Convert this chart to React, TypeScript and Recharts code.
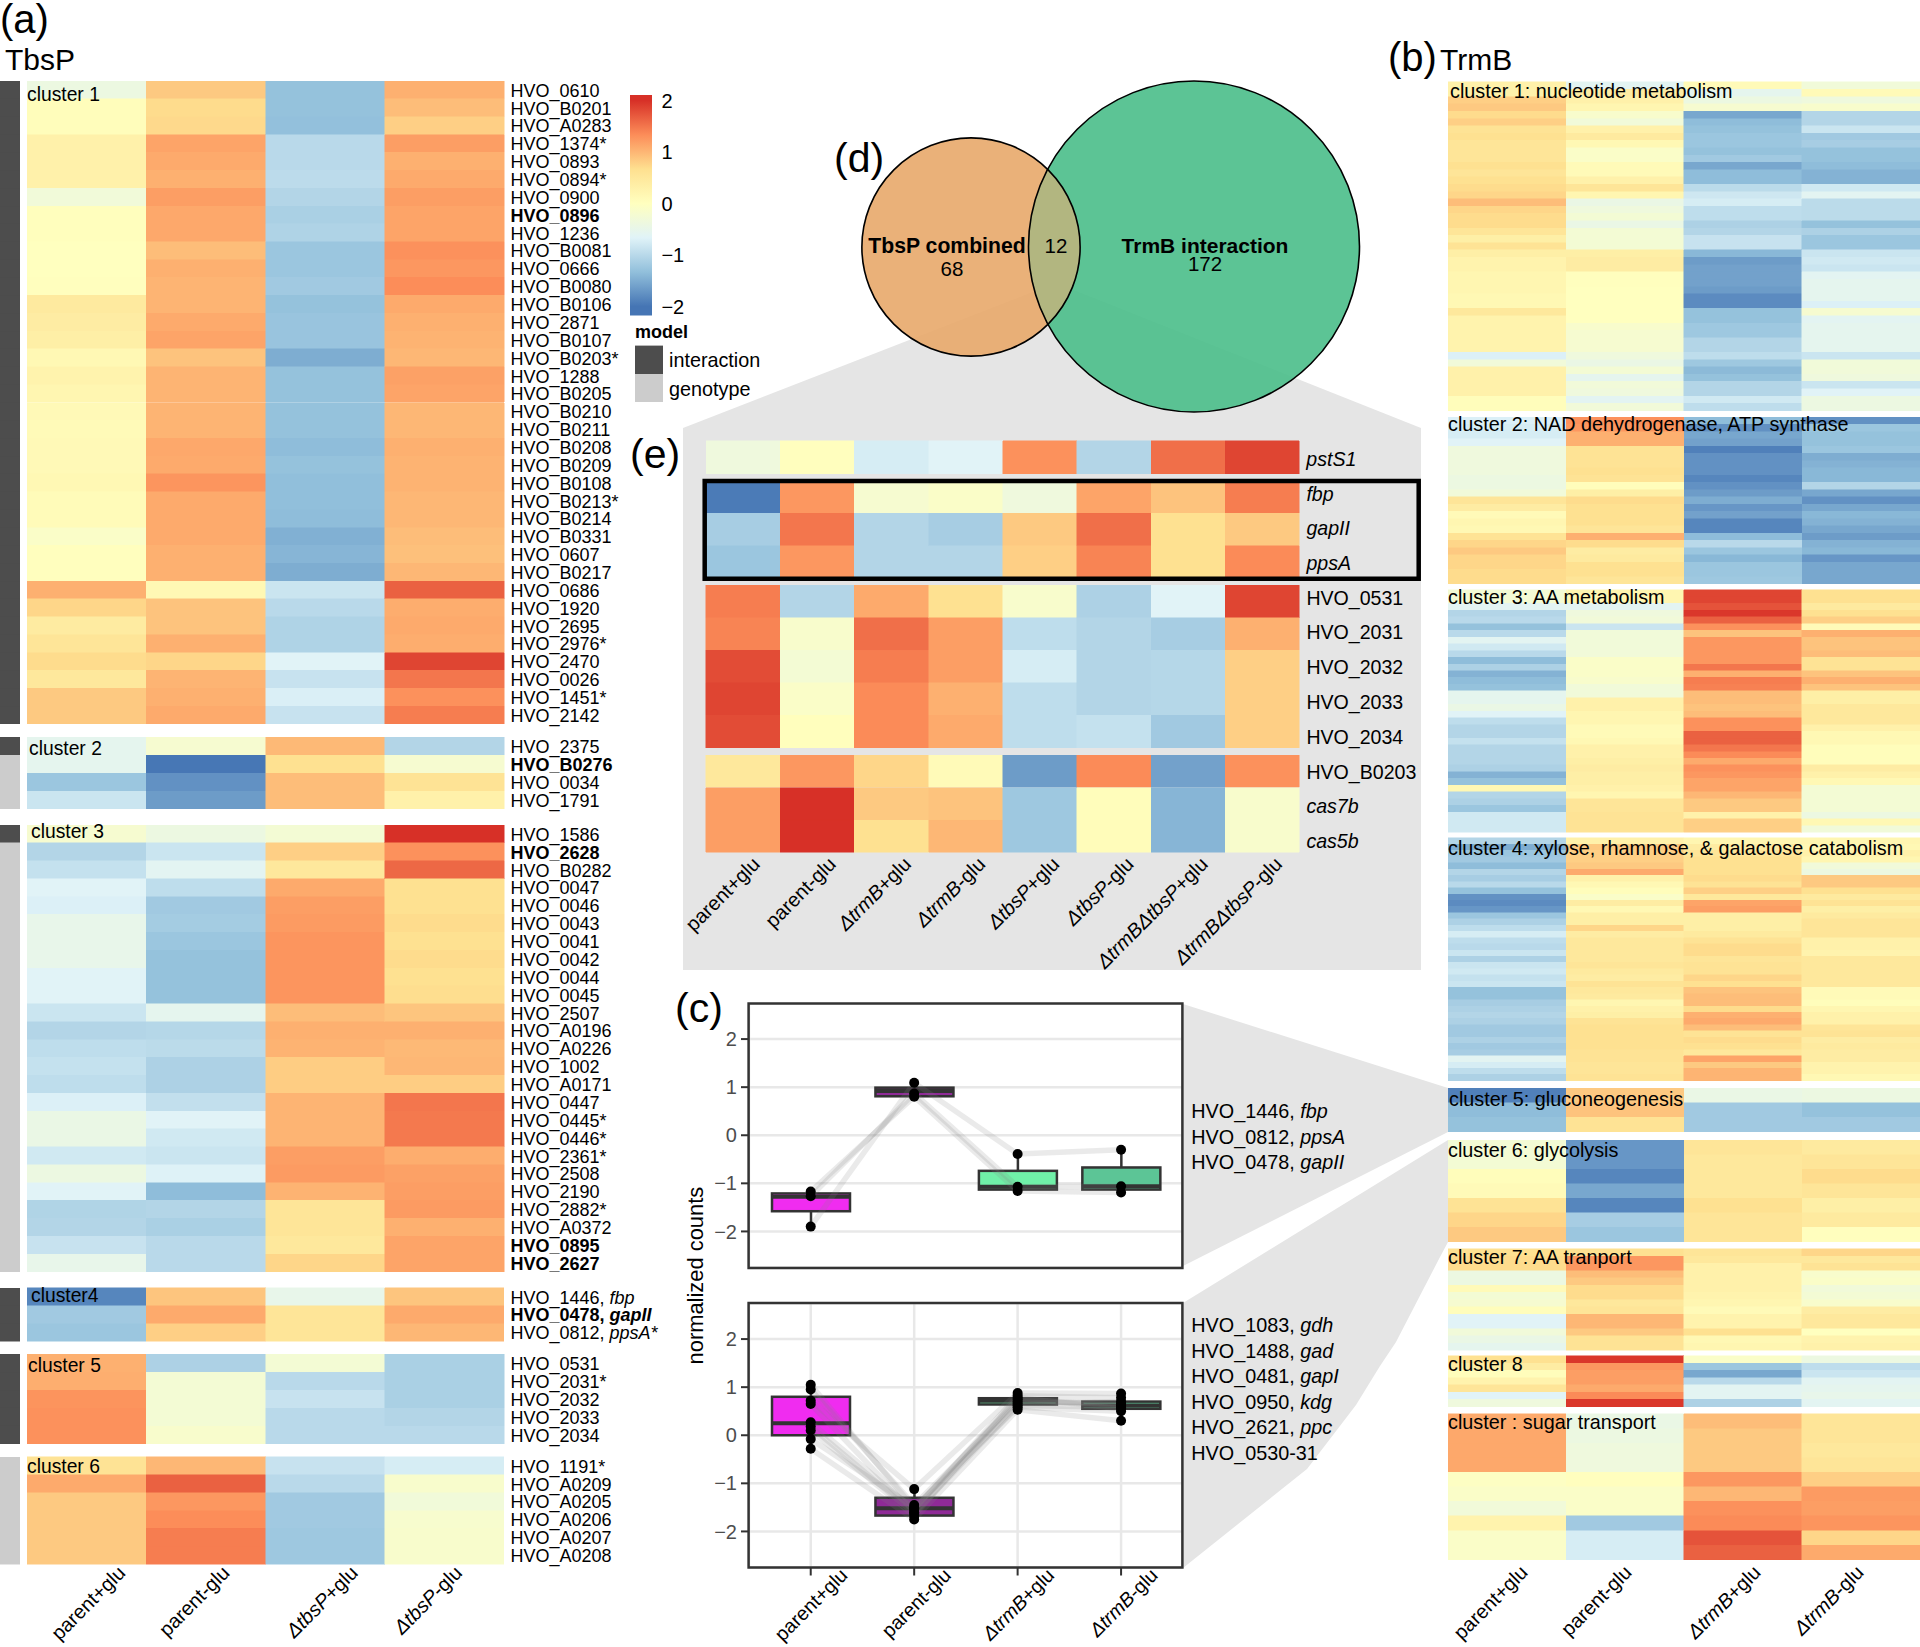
import {
  Bar,
  BarChart,
  CartesianGrid,
  Cell,
  ComposedChart,
  Line,
  Polygon,
  Rectangle,
  Scatter,
  ScatterChart,
  Surface,
  XAxis,
  YAxis,
  ZAxis
} from 'recharts';

// labels use | to switch italics on and off
const TBSP_C1_GENES = ['HVO_0610', 'HVO_B0201', 'HVO_A0283', 'HVO_1374*', 'HVO_0893', 'HVO_0894*', 'HVO_0900', 'HVO_0896', 'HVO_1236', 'HVO_B0081', 'HVO_0666', 'HVO_B0080', 'HVO_B0106', 'HVO_2871', 'HVO_B0107', 'HVO_B0203*', 'HVO_1288', 'HVO_B0205', 'HVO_B0210', 'HVO_B0211', 'HVO_B0208', 'HVO_B0209', 'HVO_B0108', 'HVO_B0213*', 'HVO_B0214', 'HVO_B0331', 'HVO_0607', 'HVO_B0217', 'HVO_0686', 'HVO_1920', 'HVO_2695', 'HVO_2976*', 'HVO_2470', 'HVO_0026', 'HVO_1451*', 'HVO_2142'];
const TBSP_C1 = [
  [-.4, .85, -1.3, 1.05], [.05, .7, -1.3, .95], [.05, .72, -1.32, .8], [.3, 1.15, -1, 1.2], [.3, 1.1, -1, 1.05], [.3, 1.05, -.97, 1.1],
  [-.3, 1.2, -1.05, 1.2], [.03, 1.12, -1.12, 1.15], [.03, 1.12, -1.08, 1.15], [0, .95, -1.25, 1.3], [0, 1.05, -1.25, 1.25], [.02, 1.02, -1.2, 1.33],
  [.45, 1.02, -1.3, 1.1], [.4, 1.1, -1.27, 1.05], [.35, 1.15, -1.27, 1.03], [.15, .9, -1.5, 1], [.25, 1.02, -1.3, 1.17], [.2, 1.02, -1.3, 1.15],
  [.12, 1.02, -1.3, 1], [.1, 1.02, -1.3, 1], [.12, 1.12, -1.35, 1.05], [.12, 1.1, -1.3, 1.03], [.15, 1.27, -1.33, 1.03], [.08, 1.1, -1.33, 1],
  [.08, 1.1, -1.35, 1], [-.1, 1.1, -1.47, .95], [.02, 1.05, -1.42, .92], [.02, 1.05, -1.5, 1], [1.05, .15, -.85, 1.65], [.75, .9, -1, 1.08],
  [.42, .9, -1.08, 1.1], [.55, 1.05, -1.08, 1.08], [.7, .75, -.65, 1.85], [.5, 1.02, -.88, 1.5], [.85, 1.05, -.72, 1.3], [.85, 1.1, -.88, 1.45]
];
const TBSP_C2_GENES = ['HVO_2375', 'HVO_B0276', 'HVO_0034', 'HVO_1791'];
const TBSP_C2 = [[-.55, -.2, .98, -1.05], [-.55, -1.98, .65, -.2], [-1.25, -1.75, .95, .6], [-.85, -1.65, .95, .3]];
const TBSP_C3_GENES = ['HVO_1586', 'HVO_2628', 'HVO_B0282', 'HVO_0047', 'HVO_0046', 'HVO_0043', 'HVO_0041', 'HVO_0042', 'HVO_0044', 'HVO_0045', 'HVO_2507', 'HVO_A0196', 'HVO_A0226', 'HVO_1002', 'HVO_A0171', 'HVO_0447', 'HVO_0445*', 'HVO_0446*', 'HVO_2361*', 'HVO_2508', 'HVO_2190', 'HVO_2882*', 'HVO_A0372', 'HVO_0895', 'HVO_2627'];
const TBSP_C3 = [
  [-.2, -.4, -.25, 2], [-1.05, -.85, .8, 1.3], [-.9, -.6, .5, 1.6], [-.65, -.95, 1.1, .65], [-.7, -1.2, 1.2, .65], [-.5, -1.17, 1.22, .7],
  [-.5, -1.25, 1.27, .65], [-.5, -1.3, 1.27, .7], [-.65, -1.3, 1.27, .65], [-.65, -1.3, 1.27, .68], [-.85, -.55, .95, .88], [-1.05, -1.03, 1.05, 1.05],
  [-.95, -.98, 1.03, .98], [-.9, -1.1, .82, 1], [-.95, -1.1, .82, .82], [-.7, -.92, 1.02, 1.5], [-.45, -.65, 1.02, 1.48], [-.45, -.8, 1.02, 1.48],
  [-.8, -.85, 1.2, 1.08], [-.4, -.68, 1.22, 1.17], [-.65, -1.35, 1.03, 1.2], [-1.07, -1.05, .55, 1.22], [-1.05, -1.12, .55, 1.05], [-.88, -1, .5, 1.15], [-.5, -1, .75, 1.15]
];
const TBSP_C4_GENES = ['HVO_1446, |fbp', 'HVO_0478, |gapII', 'HVO_0812, |ppsA*'];
const TBSP_C4 = [[-1.85, .88, -.5, .88], [-1.2, 1.1, .55, 1.1], [-1.25, .8, .55, 1]];
const TBSP_C5_GENES = ['HVO_0531', 'HVO_2031*', 'HVO_2032', 'HVO_2033', 'HVO_2034'];
const TBSP_C5 = [[1.05, -1.1, -.25, -1.12], [1.07, -.25, -1, -1.12], [1.28, -.25, -.88, -1.12], [1.3, -.25, -1, -1.05], [1.3, -.15, -1, -1]];
const TBSP_C6_GENES = ['HVO_1191*', 'HVO_A0209', 'HVO_A0205', 'HVO_A0206', 'HVO_A0207', 'HVO_A0208'];
const TBSP_C6 = [[.6, 1, -.88, -.75], [1.1, 1.65, -1, -.15], [.85, 1.25, -1.2, -.3], [.85, 1.33, -1.2, -.18], [.85, 1.45, -1.22, -.15], [.85, 1.45, -1.22, -.15]];
const BOLD_GENES = ['HVO_0896', 'HVO_B0276', 'HVO_2628', 'HVO_0895', 'HVO_2627', 'HVO_0478, |gapII'];
const TBSP_COLUMNS = ['parent+glu', 'parent-glu', '|ΔtbsP|+glu', '|ΔtbsP|-glu'];

const TRMB_C1 = [
  [.3, -.6, .1, -.3], [.3, .4, -.55, .1], [.8, .3, -.4, -.35], [.85, .2, -.2, -.15], [.7, -.15, -1.55, -1.05], [.8, -.3, -1.35, -1.05],
  [.6, .3, -1.3, -.85], [.65, .45, -1.25, -1.2], [.55, .15, -1.25, -1.15], [.55, -.1, -1.3, -1.3], [.55, -.1, -1.2, -1.3], [.65, .1, -1.55, -1.35],
  [.55, .1, -1.35, -1.45], [.65, .3, -1.35, -1.45], [.7, .55, -.98, -.8], [.75, .2, -.82, -.6], [.95, -.45, -.75, -.98], [.75, -.35, -.95, -.98],
  [.7, -.25, -.95, -.98], [.7, -.45, -1.1, -1.3], [.55, -.25, -1.05, -1.1], [.35, -.25, -.88, -1.25], [.6, -.25, -.88, -1.25], [.35, .35, -1.4, -.85],
  [.25, .4, -1.65, -.8], [.25, .4, -1.6, -.85], [.2, .02, -1.6, -.6], [.2, .02, -1.6, -.55], [.2, 0, -1.65, -.55], [.15, 0, -1.8, -.55],
  [.15, 0, -1.8, -.7], [.5, 0, -1.3, -.2], [.25, 0, -1.3, -.6], [.25, -.15, -1.22, -.55], [.25, -.2, -1.22, -.55], [.25, -.2, -1.05, -.55],
  [.25, -.2, -1.05, -.55], [-.7, -.35, -.95, -.85], [-.3, -.45, -1.22, -.3], [.3, -.25, -1.38, -.3], [.3, -.55, -1.3, -.35], [.3, -.3, -1.05, -.85],
  [.3, -.35, -1.05, -.65], [.05, -.6, -.8, -.4], [.05, -.3, -.95, -.4]
];
const TRMB_C2 = [
  [-.7, 1.3, -1.35, -1.75], [-.75, 1.25, -1.75, -1.25], [-.75, 1.05, -1.55, -1.3], [-.65, 1.05, -1.6, -1.3], [-.35, .6, -1.9, -1.25], [-.35, .6, -1.75, -1.5],
  [-.35, .6, -1.75, -1.45], [-.35, .65, -1.75, -1.4], [-.4, .6, -1.85, -1.4], [-.4, .05, -1.75, -1.05], [-.3, .35, -1.65, -1.55], [.55, .7, -1.5, -1.75],
  [.4, .65, -1.7, -1.55], [.1, .65, -1.6, -1.4], [.2, .65, -1.85, -1.45], [.15, .55, -1.85, -1.55], [.6, 1.05, -1.35, -1.65], [.75, .7, -1, -1.45],
  [.85, .4, -1.25, -1.4], [.75, .45, -1.4, -1.7], [.75, .65, -1.25, -1.55], [.7, .65, -1.25, -1.55], [.7, .55, -1.22, -1.55]
];
const TRMB_C3 = [
  [-.25, .2, 1.85, .65], [-.25, .2, 1.85, .65], [-.6, -.6, 1.75, .45], [-1.05, -.35, 1.95, .65], [-1, -.3, 1.65, .8], [-1.3, -.85, 1.3, .1],
  [-1, -.3, .9, 1.05], [-.6, -.3, 1.25, .9], [-.8, -.3, 1.25, .9], [-1, -.3, 1.25, .95], [-1.35, -.1, 1.25, .6], [-1.1, -.1, 1.5, .6],
  [-1.45, -.1, 1.05, .9], [-1.35, -.15, 1.45, 1.05], [-1.3, -.3, 1.42, .9], [-.55, -.3, .95, .35], [-.55, .3, .95, .35], [-.45, .3, .9, .5],
  [-.65, .2, .95, .5], [-.95, .2, 1.3, .5], [-1.05, .1, 1.3, .3], [-1.05, .1, 1.65, .15], [-.9, .15, 1.65, .15], [-1.05, .3, 1.5, .05],
  [-1.05, .3, 1.35, .05], [-1.05, .35, 1.1, .05], [-1.1, .4, 1.3, .4], [-1.45, .35, 1.25, .3], [-1.3, .35, 1.15, .15], [.15, .3, 1.15, -.25],
  [-1.05, .2, 1, -.25], [-1.1, .55, .85, -.25], [-1.25, .55, .85, -.25], [-.8, .6, .3, -.4], [-.8, .6, .8, .15], [-.8, .6, .8, -.3]
];
const TRMB_C4 = [
  [-1.05, .3, .2, .2], [-1.5, .85, .4, .15], [-1.25, .8, .55, .3], [-1.2, .8, .65, .2], [-1.35, .85, .65, -.3], [-1.05, 1.1, .65, -.4],
  [-1.15, .3, .7, .85], [-1, .15, .6, .85], [-1.3, .05, .8, .65], [-1.75, -.1, .5, .45], [-1.8, .4, 1.15, .6], [-1.7, .15, 1.2, .35],
  [-1.25, .35, .35, .45], [-1.1, .35, .35, .55], [-.95, .75, .35, .55], [-.75, .4, .45, .55], [-.95, .5, .6, .3], [-1, .5, .7, .3],
  [-.85, .5, .7, .25], [-1.1, .5, .55, .5], [-.85, .55, .6, .5], [-.8, .45, .6, .5], [-.9, .4, .75, .5], [-.85, .6, .65, .5],
  [-1.3, .5, .9, .1], [-1.3, .45, .95, .1], [-1.15, .2, .95, .05], [-1.1, .3, .7, .2], [-1.05, .35, 1.05, .3], [-1.1, .6, 1.1, .3],
  [-1.2, .65, .95, .55], [-1.2, .65, .6, .6], [-1.1, .65, .7, .4], [-1.2, .65, .65, .45], [-1.15, .6, .5, .4], [-.6, .6, 1.15, .4],
  [-.75, .55, .85, .25], [-.95, .55, 1.02, .25], [-1.1, .6, 1.02, .15]
];
const TRMB_C5 = [[-1.9, .85, -.45, -.4], [-1.35, .9, -1.2, -1.3], [-1.3, .6, -1.2, -1.2]];
const TRMB_C6 = [[-.25, -1.7, .55, .45], [-.25, -1.7, .5, .55], [.05, -1.85, .5, .7], [.1, -1.55, .5, .55], [.6, -1.85, .65, .35], [.75, -1.15, .55, .45], [.85, -1.25, .55, .02]];
const TRMB_C7 = [
  [.65, .65, .55, .75], [.7, 1.25, .5, .5], [.7, 1.25, .3, .6], [-.4, .95, .3, -.15], [-.4, .85, .3, -.1], [.1, .7, .3, -.3], [-.25, .7, .25, -.25],
  [-.2, .5, .2, -.15], [.05, .55, .1, .4], [-.65, 1, .25, .5], [-.65, 1, .25, .5], [-.3, .85, .65, 0], [-.45, .6, .15, .25], [-.55, .6, .2, .3]
];
const TRMB_C8 = [[.65, 1.95, -.1, -.4], [.4, 1.25, -1.25, -.95], [.05, 1.2, -1.55, -.85], [.25, 1.2, -1, -.6], [.55, 1.1, -.6, -.55], [-.65, 1.35, -.6, -.5], [-.35, 1.95, -1.1, -.6]];
const TRMB_C9 = [[1.1, -.45, .95, .55], [1.12, -.4, .85, .55], [1.12, -.35, .85, .5], [1.12, -.35, .85, .55], [-.05, .02, 1.25, .8], [-.1, -.1, 1, 1.22], [-.3, -.1, 1.3, 1.2], [.25, -1.2, 1.35, 1.27], [-.1, -.75, 1.75, .75], [-.1, -.75, 1.65, 1.1]];
const TRMB_COLUMNS = ['parent+glu', 'parent-glu', '|ΔtrmB|+glu', '|ΔtrmB|-glu'];

const SHARED_A_GENES = ['|pstS1'];
const SHARED_A = [[-.35, .02, -.75, -.65, 1.3, -1.05, 1.55, 1.85]];
const SHARED_B_GENES = ['|fbp', '|gapII', '|ppsA'];
const SHARED_B = [[-1.95, 1.25, -.2, -.1, -.35, 1.15, .9, 1.45], [-1.15, 1.5, -1.05, -1.15, .85, 1.55, .65, .85], [-1.25, 1.25, -1.05, -1.05, .8, 1.4, .65, 1.35]];
const SHARED_C_GENES = ['HVO_0531', 'HVO_2031', 'HVO_2032', 'HVO_2033', 'HVO_2034'];
const SHARED_C = [
  [1.45, -1.05, 1.1, .65, -.15, -1.1, -.65, 1.85], [1.4, -.15, 1.55, 1.2, -.95, -1.05, -1.15, 1.05], [1.8, -.25, 1.45, 1.2, -.75, -1.05, -1.03, .8],
  [1.85, -.1, 1.35, 1.05, -.95, -1.05, -1.03, .8], [1.8, .03, 1.35, 1.1, -.95, -.9, -1.2, .8]
];
const SHARED_D_GENES = ['HVO_B0203', '|cas7b', '|cas5b'];
const SHARED_D = [[.5, 1.25, .75, .1, -1.65, 1.35, -1.6, 1.3], [1.2, 2, .85, .9, -1.22, .05, -1.42, -.15], [1.2, 2, .65, 1, -1.22, .07, -1.42, -.15]];
const SHARED_COLUMNS = ['parent+glu', 'parent-glu', '|ΔtrmB|+glu', '|ΔtrmB|-glu', '|ΔtbsP|+glu', '|ΔtbsP|-glu', '|ΔtrmBΔtbsP|+glu', '|ΔtrmBΔtbsP|-glu'];

const BOX_GROUPS = ['parent+glu', 'parent-glu', '|ΔtrmB|+glu', '|ΔtrmB|-glu'];
const BOX_FILLS = ['#f02cf0', '#8f2a97', '#70f0a8', '#5cc596'];
const UPPER_PROFILES = [[-1.9, 1.09, -.39, -.3], [-1.27, .87, -1.07, -1.06], [-1.17, .8, -1.16, -1.19]];
const UPPER_Q1 = [-1.58, .81, -1.13, -1.13];
const UPPER_MEDIAN = [-1.28, .92, -1.07, -1.06];
const UPPER_Q3 = [-1.21, .99, -.74, -.67];
const UPPER_WHISKER_LOW = [-1.9, .8, -1.16, -1.19];
const UPPER_WHISKER_HIGH = [-1.17, 1.09, -.39, -.3];
const LOWER_PROFILES = [
  [1.05, -1.52, .75, .62], [.95, -1.45, .7, .66], [.72, -1.12, .88, .87], [.65, -1.6, .66, .7], [.27, -1.55, .82, .78],
  [.18, -1.63, .62, .58], [.1, -1.68, .78, .55], [-.08, -1.5, .58, .5], [-.28, -1.75, .53, .3]
];
const LOWER_Q1 = [0, -1.67, .64, .55];
const LOWER_MEDIAN = [.25, -1.52, .72, .62];
const LOWER_Q3 = [.8, -1.3, .77, .7];
const LOWER_WHISKER_LOW = [-.28, -1.75, .53, .3];
const LOWER_WHISKER_HIGH = [1.05, -1.12, .88, .87];
const UPPER_GENES = ['HVO_1446, |fbp', 'HVO_0812, |ppsA', 'HVO_0478, |gapII'];
const LOWER_GENES = ['HVO_1083, |gdh', 'HVO_1488, |gad', 'HVO_0481, |gapI', 'HVO_0950, |kdg', 'HVO_2621, |ppc', 'HVO_0530-31'];

const VENN_SETS = ['TbsP combined', 'TrmB interaction'];
const VENN_TOTALS = [80, 184];
const VENN_EXCLUSIVE = [68, 12, 172];

const HEAT_STOPS = ['#4575b4', '#91bfdb', '#e0f3f8', '#ffffbf', '#fee090', '#fc8d59', '#d73027'];
const MODEL_COLORS: Record<string, string> = { interaction: '#4d4d4d', genotype: '#cccccc' };
const FONT = '"Liberation Sans", Arial, sans-serif';

const heatColor = (value: number) => {
  const t = ((Math.max(-2, Math.min(2, value)) + 2) / 4) * (HEAT_STOPS.length - 1);
  const i = Math.min(Math.floor(t), HEAT_STOPS.length - 2);
  const channel = (hex: string, at: number) => parseInt(hex.slice(at, at + 2), 16);
  const mix = [1, 3, 5].map((at) =>
    Math.round(channel(HEAT_STOPS[i], at) + (channel(HEAT_STOPS[i + 1], at) - channel(HEAT_STOPS[i], at)) * (t - i))
  );
  return `rgb(${mix.join(',')})`;
};

const MarkedText = ({ x, y, label, size, bold, transform, anchor }: any) => (
  <text x={x} y={y} fontSize={size} fontWeight={bold ? 700 : 400} transform={transform} textAnchor={anchor} dominantBaseline="central" fill="#000">
    {String(label).split('|').map((part, i) => (
      <tspan key={i} fontStyle={i % 2 ? 'italic' : 'normal'}>{part}</tspan>
    ))}
  </text>
);

const Heatmap = ({ left, top, width, height, rows, genes, labelSize = 18, labelGap = 6.5, labelSpace = 170, labelAt, columns, nudges, labelDrop = 5, axisHeight = 100, fillOf = heatColor }: any) => {
  const pad = 40;
  const vpad = 14; // room so the first and last row labels are not clipped by the svg
  const count = rows[0].length;
  const data = rows.map((row: any[], i: number) => {
    const entry: any = { gene: genes ? genes[i] : `row${i}` };
    row.forEach((_, j) => { entry[`c${j}`] = 1; });
    return entry;
  });
  const ticks = rows[0].map((_: any, j: number) => j + 0.5);
  const right = genes ? labelSpace : 0;
  const bottom = columns ? axisHeight : 0;
  return (
    <div style={{ position: 'absolute', left: left - pad, top: top - vpad, shapeRendering: 'crispEdges' }}>
      <BarChart
        layout="vertical"
        width={pad + width + right}
        height={vpad + height + bottom + vpad}
        data={data}
        margin={{ top: vpad, right: 0, bottom: vpad, left: pad }}
        barCategoryGap={0}
        barGap={0}
      >
        <XAxis
          type="number"
          domain={[0, count]}
          ticks={ticks}
          interval={0}
          hide={!columns}
          height={bottom}
          axisLine={false}
          tickLine={false}
          tick={(p: any) => {
            const j = Math.floor(p.payload.value);
            const x = p.x + nudges[j];
            const y = vpad + height + labelDrop;
            return <MarkedText x={x} y={y} label={columns[j]} size={20} anchor="end" transform={`rotate(-45 ${x} ${y})`} />;
          }}
        />
        <YAxis
          type="category"
          dataKey="gene"
          orientation="right"
          width={right}
          hide={!genes}
          interval={0}
          axisLine={false}
          tickLine={false}
          tick={(p: any) => (
            <MarkedText
              x={pad + width + labelGap}
              y={labelAt ? labelAt(genes.indexOf(p.payload.value)) - top + vpad : p.y + 0.8}
              label={p.payload.value}
              size={labelSize}
              bold={BOLD_GENES.includes(p.payload.value)}
            />
          )}
        />
        {rows[0].map((_: any, j: number) => (
          <Bar key={j} dataKey={`c${j}`} stackId="cells" barSize={height / rows.length - 0.001} isAnimationActive={false}>
            {rows.map((row: any[], i: number) => (
              <Cell key={i} fill={fillOf(row[j])} stroke={fillOf(row[j])} strokeWidth={0.5} />
            ))}
          </Bar>
        ))}
      </BarChart>
    </div>
  );
};

const modelFill = (model: string) => MODEL_COLORS[model];

const ModelStrip = ({ top, height, models }: any) => (
  <Heatmap left={0} top={top} width={20.4} height={height} rows={models.map((m: string) => [m])} fillOf={modelFill} />
);

const ColorBar = () => {
  const low = -2.175;
  const high = 2.107;
  const vpad = 14;
  return (
    <div style={{ position: 'absolute', left: 629.6, top: 94.5 - vpad }}>
      <BarChart width={72} height={220.5 + 2 * vpad} data={[{ name: 'z', span: [low, high] }]} margin={{ top: vpad, right: 0, bottom: vpad, left: 0 }} barCategoryGap={0}>
        <XAxis dataKey="name" hide />
        <YAxis
          orientation="right"
          width={49.6}
          domain={[low, high]}
          ticks={[-2, -1, 0, 1, 2]}
          interval={0}
          axisLine={false}
          tickLine={false}
          tickSize={7}
          tickMargin={2}
          tick={{ fill: '#000', fontSize: 20 }}
          tickFormatter={(v: number) => String(v).replace('-', '−')}
        />
        <Bar dataKey="span" fill="url(#heat-ramp)" isAnimationActive={false} />
      </BarChart>
    </div>
  );
};

const BoxShape = ({ x, y, width, height, payload, index }: any) => {
  const perUnit = Math.abs(height) / (payload.q3 - payload.q1);
  const at = (v: number) => y + (payload.q3 - v) * perUnit;
  const mid = x + width / 2;
  return (
    <g>
      <line x1={mid} x2={mid} y1={at(payload.whiskerHigh)} y2={at(payload.whiskerLow)} stroke="#333" strokeWidth={2.5} />
      <rect x={x} y={y} width={width} height={Math.abs(height)} fill={BOX_FILLS[index]} stroke="#333" strokeWidth={2.5} />
      <line x1={x} x2={x + width} y1={at(payload.median)} y2={at(payload.median)} stroke="#333" strokeWidth={4} />
    </g>
  );
};

const BoxPanel = ({ top, profiles, q1, median, q3, low, high, showAxis }: any) => {
  const data = BOX_GROUPS.map((group, i) => {
    const row: any = { group, q1: q1[i], median: median[i], q3: q3[i], whiskerLow: low[i], whiskerHigh: high[i] };
    profiles.forEach((p: number[], k: number) => { row[`g${k}`] = p[i]; });
    return row;
  });
  const plotHeight = 264.5;
  const bottom = showAxis ? 85 : 0;
  return (
    <div style={{ position: 'absolute', left: 688.6, top }}>
      <ComposedChart width={493.8} height={plotHeight + bottom} data={data} margin={{ top: 0, right: 0, bottom: 0, left: 0 }}>
        <CartesianGrid stroke="#e8e8e8" strokeWidth={2.5} />
        <XAxis
          dataKey="group"
          padding={{ left: 10, right: 10 }}
          height={bottom}
          interval={0}
          axisLine={false}
          tickLine={showAxis ? { stroke: '#333', strokeWidth: 2 } : false}
          tickSize={showAxis ? 8 : 0}
          tick={showAxis ? (p: any) => {
            const x = p.x + 33;
            const y = plotHeight + 4;
            return <MarkedText x={x} y={y} label={p.payload.value} size={19.6} anchor="end" transform={`rotate(-45 ${x} ${y})`} />;
          } : false}
        />
        <YAxis
          width={60}
          domain={[-2.75, 2.75]}
          ticks={[-2, -1, 0, 1, 2]}
          interval={0}
          axisLine={false}
          tickLine={{ stroke: '#333', strokeWidth: 2 }}
          tickSize={8}
          tickMargin={4}
          tick={{ fill: '#4d4d4d', fontSize: 20 }}
          tickFormatter={(v: number) => String(v).replace('-', '−')}
        />
        <Bar dataKey={(d: any) => [d.q1, d.q3]} barSize={78} isAnimationActive={false} shape={(p: any) => <BoxShape {...p} />} />
        {profiles.map((_: number[], k: number) => (
          <Line
            key={k}
            dataKey={`g${k}`}
            stroke="#808080"
            strokeOpacity={0.17}
            strokeWidth={5.5}
            dot={{ r: 5, fill: '#000', stroke: 'none', fillOpacity: 1 }}
            isAnimationActive={false}
          />
        ))}
      </ComposedChart>
    </div>
  );
};

// venn chart uses page pixels as its own axis units
const VENN_LEFT = 860;
const VENN_TOP = 76;
const VENN_CENTRES = [{ x: 971, y: 247 }, { x: 1194, y: 246.5 }];
const VENN_FILLS = ['#e8a86a', '#4abe89'];

const Venn = () => {
  const data = VENN_SETS.map((name, i) => ({ name, count: VENN_TOTALS[i], x: VENN_CENTRES[i].x, y: VENN_CENTRES[i].y }));
  const disc = (fill: (i: number) => string, extra: any = {}) => (p: any) => (
    <circle cx={p.cx} cy={p.cy} r={Math.sqrt(p.size / Math.PI)} fill={fill(p.index)} {...extra} />
  );
  return (
    <div style={{ position: 'absolute', left: VENN_LEFT, top: VENN_TOP }}>
      <ScatterChart width={510} height={345} margin={{ top: 0, right: 0, bottom: 0, left: 0 }}>
        <XAxis type="number" dataKey="x" domain={[VENN_LEFT, VENN_LEFT + 510]} hide />
        <YAxis type="number" dataKey="y" domain={[VENN_TOP, VENN_TOP + 345]} reversed hide />
        <ZAxis type="number" dataKey="count" domain={[0, 184]} range={[0, Math.PI * 165.5 * 165.5]} scale="linear" />
        <Scatter data={data} isAnimationActive={false} shape={disc((i) => VENN_FILLS[i], { fillOpacity: 0.9 })} />
        <Scatter data={data.slice(0, 1)} isAnimationActive={false} shape={disc(() => '#b5b680', { fillOpacity: 0.97, clipPath: 'url(#venn-lens)' })} />
        <Scatter data={data} isAnimationActive={false} shape={disc(() => 'none', { stroke: '#000', strokeWidth: 1.6 })} />
      </ScatterChart>
    </div>
  );
};

const Background = () => {
  const stops = HEAT_STOPS.map((_, i) => -2 + (i * 4) / (HEAT_STOPS.length - 1));
  return (
    <div style={{ position: 'absolute', left: 0, top: 0 }}>
      <Surface width={1920} height={1647}>
        <defs>
          <linearGradient id="heat-ramp" x1="0" y1="1" x2="0" y2="0">
            {stops.map((v) => (
              <stop key={v} offset={(v + 2.175) / 4.282} stopColor={heatColor(v)} />
            ))}
          </linearGradient>
          <clipPath id="venn-lens">
            <circle cx={VENN_CENTRES[1].x - VENN_LEFT} cy={VENN_CENTRES[1].y - VENN_TOP} r={165.5} />
          </clipPath>
        </defs>
        <Polygon fill="#e5e5e5" points={[{ x: 683, y: 428 }, { x: 1056, y: 283 }, { x: 1421, y: 428 }, { x: 1421, y: 970 }, { x: 683, y: 970 }]} />
        <Polygon fill="#e5e5e5" points={[{ x: 1183, y: 1004 }, { x: 1448, y: 1088 }, { x: 1448, y: 1132 }, { x: 1183, y: 1266 }]} />
        <Polygon
          fill="#e5e5e5"
          points={[
            { x: 1183, y: 1303 }, { x: 1448, y: 1140 }, { x: 1448, y: 1242 }, { x: 1440, y: 1257 }, { x: 1396, y: 1342 },
            { x: 1380, y: 1366 }, { x: 1356, y: 1405 }, { x: 1307, y: 1469 }, { x: 1183, y: 1568 }
          ]}
        />
      </Surface>
    </div>
  );
};

const Foreground = () => {
  const plain = (x: number, y: number, s: string, size: number, extra: any = {}) => (
    <text x={x} y={y} fontSize={size} fill="#000" {...extra}>{s}</text>
  );
  const centred = { dominantBaseline: 'central' };
  return (
    <div style={{ position: 'absolute', left: 0, top: 0, pointerEvents: 'none' }}>
      <Surface width={1920} height={1647}>
        {plain(0, 33, '(a)', 40)}
        {plain(5, 70, 'TbsP', 30)}
        {plain(1388, 71, '(b)', 40)}
        {plain(1440, 70, 'TrmB', 30)}
        {plain(834, 172, '(d)', 41)}
        {plain(630, 468, '(e)', 41)}
        {plain(675, 1022, '(c)', 41)}

        {TBSP_TITLES.map(([s, x, y]: any) => <g key={s}>{plain(x, y, s, 19.3, centred)}</g>)}
        {TRMB_TITLES.map(([s, x, y]: any) => <g key={s}>{plain(x, y, s, 19.8, centred)}</g>)}

        {plain(635, 332, 'model', 18, { ...centred, fontWeight: 700 })}
        <Rectangle x={635} y={345.6} width={28} height={28.4} fill={MODEL_COLORS.interaction} />
        <Rectangle x={635} y={374} width={28} height={28} fill={MODEL_COLORS.genotype} />
        {plain(669, 360, 'interaction', 19.8, centred)}
        {plain(669, 389, 'genotype', 19.8, centred)}

        {plain(947, 245, VENN_SETS[0], 21.2, { ...centred, fontWeight: 700, textAnchor: 'middle' })}
        {plain(952, 268.6, String(VENN_EXCLUSIVE[0]), 20.5, { ...centred, textAnchor: 'middle' })}
        {plain(1056, 245, String(VENN_EXCLUSIVE[1]), 20.5, { ...centred, textAnchor: 'middle' })}
        {plain(1205, 245, VENN_SETS[1], 21, { ...centred, fontWeight: 700, textAnchor: 'middle' })}
        {plain(1205, 263.7, String(VENN_EXCLUSIVE[2]), 20.5, { ...centred, textAnchor: 'middle' })}

        <Rectangle x={704.7} y={481} width={714} height={97.8} fill="none" stroke="#000" strokeWidth={4.5} />

        <Rectangle x={748.6} y={1003.4} width={433.8} height={264.5} fill="none" stroke="#333" strokeWidth={2.5} />
        <Rectangle x={748.6} y={1303} width={433.8} height={264.5} fill="none" stroke="#333" strokeWidth={2.5} />
        {plain(696, 1275.6, 'normalized counts', 21.9, { ...centred, textAnchor: 'middle', transform: 'rotate(-90 696 1275.6)' })}

        {UPPER_GENES.map((g, i) => <MarkedText key={g} x={1191.3} y={1111 + i * 25.5} label={g} size={19.8} />)}
        {LOWER_GENES.map((g, i) => <MarkedText key={g} x={1191.3} y={1325.4 + i * 25.5} label={g} size={19.8} />)}
      </Surface>
    </div>
  );
};

const TBSP_TITLES = [
  ['cluster 1', 27, 94], ['cluster 2', 29, 748], ['cluster 3', 31, 831],
  ['cluster4', 31, 1295.4], ['cluster 5', 28, 1365], ['cluster 6', 27, 1466]
];
const TRMB_TITLES = [
  ['cluster 1: nucleotide metabolism', 1450, 90.7], ['cluster 2: NAD dehydrogenase, ATP synthase', 1448, 424], ['cluster 3: AA metabolism', 1448, 597],
  ['cluster 4: xylose, rhamnose, & galactose catabolism', 1448, 848], ['cluster 5: gluconeogenesis', 1449, 1099], ['cluster 6: glycolysis', 1448, 1150],
  ['cluster 7: AA tranport', 1448, 1257], ['cluster 8', 1448, 1364], ['cluster : sugar transport', 1448, 1422]
];

const stripRows = (genes: string[], first: string, rest: string) => genes.map((_, i) => (i === 0 ? first : rest));

// panel e labels sit on an even ladder that does not follow the gaps between blocks
const sharedLabelAt = (start: number) => (i: number) => 459 + 34.7 * (start + i);

const App = () => {
  const tbsp = { left: 26.5, width: 477 };
  const trmb = { left: 1448, width: 472 };
  const shared = { left: 706.3, width: 593.4, labelSize: 19.6, labelGap: 7, labelSpace: 130 };
  return (
    <div style={{ position: 'absolute', left: 0, top: 0, width: 1920, height: 1647, overflow: 'hidden', background: '#fff', fontFamily: FONT }}>
      <Background />

      <ModelStrip top={81} height={643} models={stripRows(TBSP_C1_GENES, 'interaction', 'interaction')} />
      <ModelStrip top={737} height={72} models={stripRows(TBSP_C2_GENES, 'interaction', 'genotype')} />
      <ModelStrip top={824.7} height={447} models={stripRows(TBSP_C3_GENES, 'interaction', 'genotype')} />
      <ModelStrip top={1287.7} height={53.3} models={stripRows(TBSP_C4_GENES, 'interaction', 'interaction')} />
      <ModelStrip top={1354} height={90} models={stripRows(TBSP_C5_GENES, 'interaction', 'interaction')} />
      <ModelStrip top={1457.4} height={107.1} models={stripRows(TBSP_C6_GENES, 'genotype', 'genotype')} />

      <Heatmap {...tbsp} top={81} height={643} rows={TBSP_C1} genes={TBSP_C1_GENES} />
      <Heatmap {...tbsp} top={737} height={72} rows={TBSP_C2} genes={TBSP_C2_GENES} />
      <Heatmap {...tbsp} top={824.7} height={447} rows={TBSP_C3} genes={TBSP_C3_GENES} />
      <Heatmap {...tbsp} top={1287.7} height={53.3} rows={TBSP_C4} genes={TBSP_C4_GENES} />
      <Heatmap {...tbsp} top={1354} height={90} rows={TBSP_C5} genes={TBSP_C5_GENES} />
      <Heatmap {...tbsp} top={1457.4} height={107.1} rows={TBSP_C6} genes={TBSP_C6_GENES} columns={TBSP_COLUMNS} nudges={[35, 20, 29, 14]} />

      <ColorBar />

      <Heatmap {...trmb} top={82} height={328.7} rows={TRMB_C1} />
      <Heatmap {...trmb} top={417} height={167} rows={TRMB_C2} />
      <Heatmap {...trmb} top={590} height={242.3} rows={TRMB_C3} />
      <Heatmap {...trmb} top={838.3} height={242.7} rows={TRMB_C4} />
      <Heatmap {...trmb} top={1088.3} height={44} rows={TRMB_C5} />
      <Heatmap {...trmb} top={1140} height={102} rows={TRMB_C6} />
      <Heatmap {...trmb} top={1248.7} height={101.3} rows={TRMB_C7} />
      <Heatmap {...trmb} top={1356} height={50.7} rows={TRMB_C8} />
      <Heatmap {...trmb} top={1414.3} height={145.7} rows={TRMB_C9} columns={TRMB_COLUMNS} nudges={[17, 3, 14, -1]} labelDrop={9} />

      <Venn />

      <Heatmap {...shared} top={441} height={32.8} rows={SHARED_A} genes={SHARED_A_GENES} labelAt={sharedLabelAt(0)} />
      <Heatmap {...shared} top={481} height={97} rows={SHARED_B} genes={SHARED_B_GENES} labelAt={sharedLabelAt(1)} />
      <Heatmap {...shared} top={585} height={163} rows={SHARED_C} genes={SHARED_C_GENES} labelAt={sharedLabelAt(4)} />
      <Heatmap {...shared} top={754.7} height={97.5} rows={SHARED_D} genes={SHARED_D_GENES} labelAt={sharedLabelAt(9)} columns={SHARED_COLUMNS} nudges={[13, 15, 16, 16, 16, 16, 16, 16]} labelDrop={8} axisHeight={125} />

      <BoxPanel top={1003.4} profiles={UPPER_PROFILES} q1={UPPER_Q1} median={UPPER_MEDIAN} q3={UPPER_Q3} low={UPPER_WHISKER_LOW} high={UPPER_WHISKER_HIGH} />
      <BoxPanel top={1303} profiles={LOWER_PROFILES} q1={LOWER_Q1} median={LOWER_MEDIAN} q3={LOWER_Q3} low={LOWER_WHISKER_LOW} high={LOWER_WHISKER_HIGH} showAxis />

      <Foreground />
    </div>
  );
};

export default App;
